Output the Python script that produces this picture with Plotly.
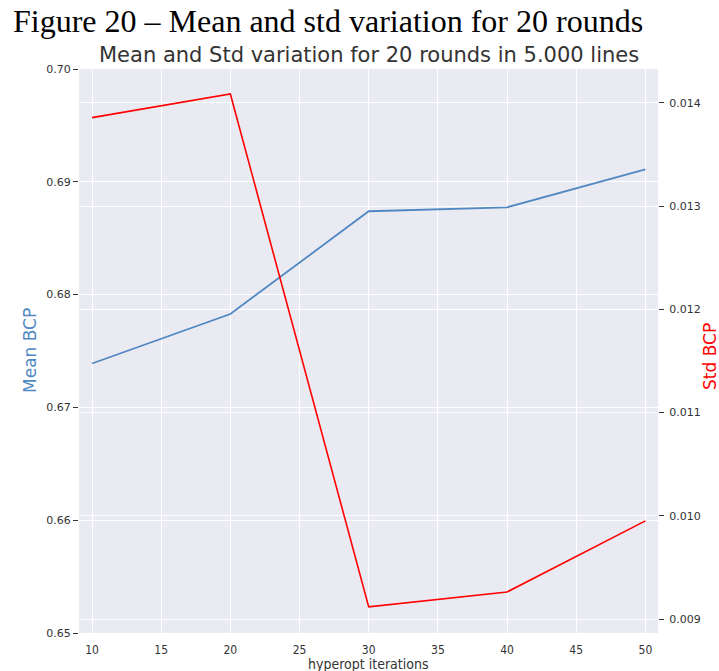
import plotly.graph_objects as go

# hyperopt iterations and the per-iteration statistics over 20 rounds
iterations = [10, 20, 30, 40, 50]
mean_bcp = [0.67389, 0.67828, 0.68739, 0.68774, 0.69110]
std_bcp = [0.013855, 0.014084, 0.009120, 0.009264, 0.009952]

mean_ticks = [0.65, 0.66, 0.67, 0.68, 0.69, 0.70]
std_ticks = [0.009, 0.010, 0.011, 0.012, 0.013, 0.014]
x_ticks = [10, 15, 20, 25, 30, 35, 40, 45, 50]

BG = "#eaeaf2"
TXT = "#333333"
BLUE = "#5088c2"
RED = "#ff0000"
FONT = "DejaVu Sans"
XFONT = "DejaVu Sans Condensed, DejaVu Sans"

W, H = 719, 671
L, R, T, B = 79, 61, 69, 38

fig = go.Figure()
fig.add_trace(go.Scatter(x=iterations, y=mean_bcp, mode="lines",
                         line=dict(color=BLUE, width=1.8), yaxis="y"))
fig.add_trace(go.Scatter(x=iterations, y=std_bcp, mode="lines",
                         line=dict(color=RED, width=1.6), yaxis="y2"))


def px_x(p):
    """Horizontal pixel position -> paper fraction."""
    return (p - L) / (W - L - R)


def px_y(p):
    """Vertical pixel position (from top) -> paper fraction."""
    return (H - B - p) / (H - T - B)


fig.update_layout(
    width=W, height=H,
    margin=dict(l=L, r=R, t=T, b=B, autoexpand=False),
    paper_bgcolor="white", plot_bgcolor=BG,
    showlegend=False,
    font=dict(family=FONT, color=TXT, size=11),
    xaxis=dict(range=[9.06, 50.91], tickvals=x_ticks,
               ticktext=[str(v) for v in x_ticks],
               showgrid=True, gridcolor="white", gridwidth=1,
               zeroline=False, showline=False, automargin=False,
               ticks="outside", ticklen=6, tickcolor="rgba(0,0,0,0)",
               tickfont=dict(family=XFONT, size=12, color=TXT)),
    yaxis=dict(range=[0.65, 0.70], tickvals=mean_ticks,
               ticktext=[f"{v:.2f}" for v in mean_ticks],
               showgrid=True, gridcolor="white", gridwidth=1,
               zeroline=False, showline=False, automargin=False,
               ticks="outside", ticklen=5, tickcolor=TXT, tickwidth=1,
               tickfont=dict(size=11, color=TXT)),
    yaxis2=dict(range=[0.008867, 0.014326], tickvals=std_ticks,
                ticktext=[f"{v:.3f}" for v in std_ticks],
                overlaying="y", side="right",
                showgrid=True, gridcolor="white", gridwidth=1,
                zeroline=False, showline=False, automargin=False,
                ticks="outside", ticklen=5, tickcolor=TXT, tickwidth=1,
                ticklabelstandoff=3,
                tickfont=dict(size=11, color=TXT)),
    annotations=[
        dict(text="Mean and Std variation for 20 rounds in 5.000 lines",
             xref="paper", yref="paper", x=0.5, y=1.0, yshift=0,
             xanchor="center", yanchor="bottom", showarrow=False,
             font=dict(family=FONT, size=21, color=TXT)),
        dict(text="Figure 20 \u2013 Mean and std variation for 20 rounds",
             xref="paper", yref="paper", x=px_x(11), y=1.0, yshift=28,
             xanchor="left", yanchor="bottom", showarrow=False,
             font=dict(family="Liberation Serif", size=32, color="black")),
        dict(text="Mean BCP", textangle=-90,
             xref="paper", yref="paper", x=px_x(30), y=px_y(351),
             xanchor="center", yanchor="middle", showarrow=False,
             font=dict(family=FONT, size=17, color=BLUE)),
        dict(text="Std BCP", textangle=-90,
             xref="paper", yref="paper", x=px_x(710), y=px_y(357),
             xanchor="center", yanchor="middle", showarrow=False,
             font=dict(family=FONT, size=17, color=RED)),
        dict(text="hyperopt iterations",
             xref="paper", yref="paper", x=px_x(368), y=px_y(664),
             xanchor="center", yanchor="middle", showarrow=False,
             font=dict(family=XFONT, size=14, color=TXT)),
    ],
)

fig.write_html("out.html")
